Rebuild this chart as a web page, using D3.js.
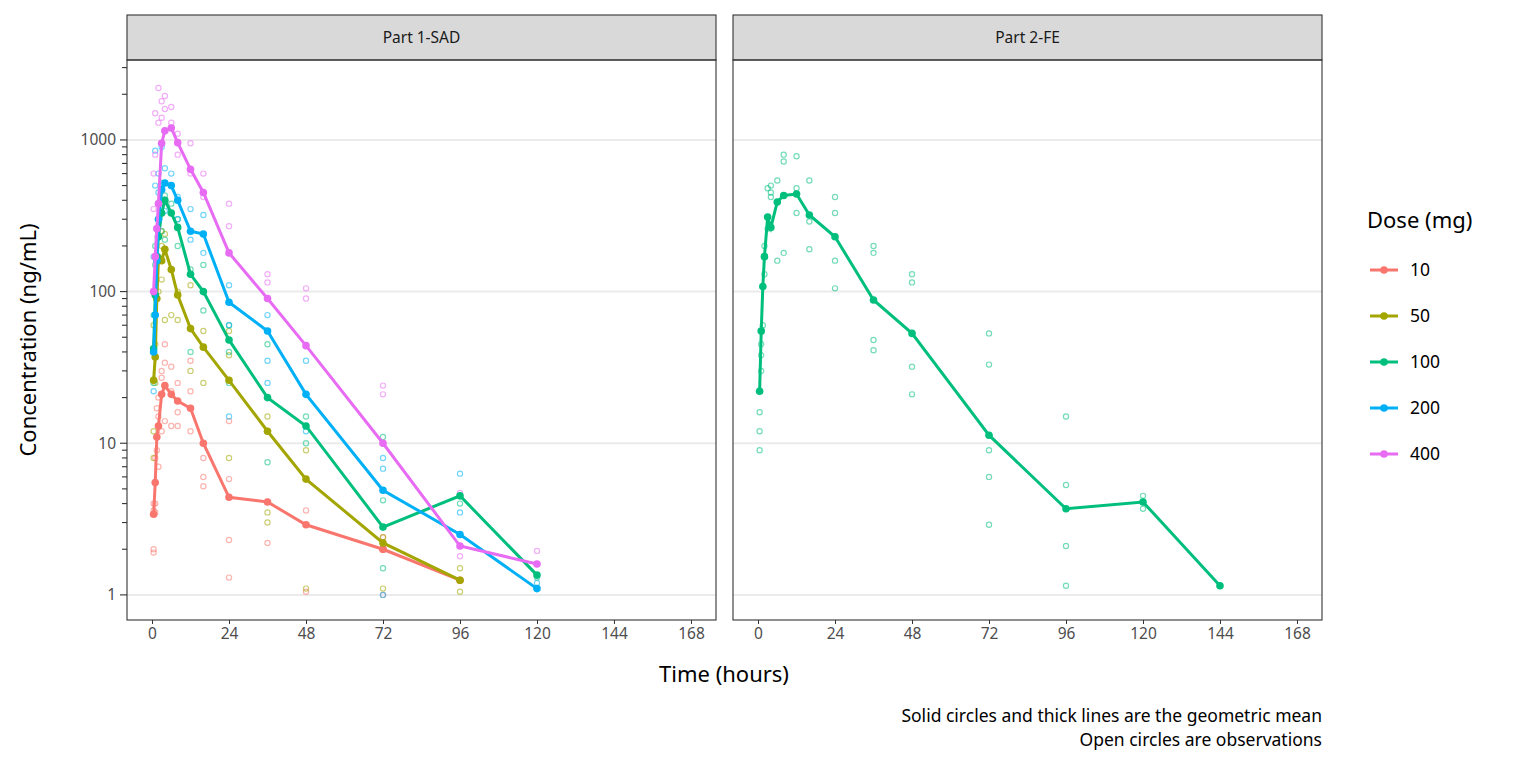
<!DOCTYPE html>
<html><head><meta charset="utf-8">
<script src="https://cdn.jsdelivr.net/npm/d3@7"></script>
<style>body{margin:0;background:#fff;font-family:"Noto Sans",sans-serif}</style>
</head><body><div id="app"></div>
<script>
const doses = ['10', '50', '100', '200', '400'];
const colors = ['#F8766D', '#A3A500', '#00BF7D', '#00B0F6', '#E76BF3'];
const panels = ['Part 1-SAD', 'Part 2-FE'];
const xTicks = [0, 24, 48, 72, 96, 120, 144, 168];
const yTicks = [1, 10, 100, 1000];

// geometric means, Part 1
const times1 = [0.5, 1, 1.5, 2, 3, 4, 6, 8, 12, 16, 24, 36, 48, 72, 96, 120];
const mean10 = [3.4, 5.5, 11, 13, 21, 24, 21, 19, 17, 10, 4.4, 4.1, 2.9, 2.0, null, null];
const mean10b = [null, null, null, null, null, null, null, null, null, null, null, null, null, 2.0, 1.25, null];
const mean50 = [26, 37, 90, 165, 160, 190, 140, 95, 57, 43, 26, 12, 5.8, 2.2, 1.25, null];
const mean100 = [42, 95, 170, 230, 330, 400, 330, 265, 130, 100, 48, 20, 13, 2.8, 4.5, 1.35];
const mean200 = [40, 70, 160, 300, 470, 520, 500, 400, 250, 240, 85, 55, 21, 4.9, 2.5, 1.1];
const mean400 = [100, 170, 260, 380, 950, 1150, 1200, 960, 640, 450, 180, 90, 44, 10, 2.1, 1.6];
// geometric means, Part 2 (100 mg)
const times2 = [0.5, 1, 1.5, 2, 3, 4, 6, 8, 12, 16, 24, 36, 48, 72, 96, 120, 144];
const meanFE = [22, 55, 108, 170, 310, 265, 390, 430, 440, 320, 230, 88, 53, 11.3, 3.7, 4.1, 1.15];

// observations [time, value]
const obs10 = [[0.5,2.0],[0.5,1.9],[0.5,4],[0.5,3.6],[1,8],[1,4],[1,3.5],[1.5,17],[1.5,9],[2,20],[2,15],[2,7],[3,30],[3,12],[3,27],[4,34],[4,45],[4,14],[6,22],[6,13],[6,32],[8,16],[8,13],[8,25],[12,22],[12,12],[12,35],[16,8],[16,5.2],[16,6],[24,14],[24,5.8],[24,2.3],[24,1.3],[36,4.1],[36,2.2],[48,3.6],[48,1.05],[72,2.4],[72,1.0]];
const obs50 = [[0.5,8],[0.5,12],[0.5,60],[1,45],[1,25],[2,100],[2,170],[3,200],[3,250],[3,120],[4,240],[4,65],[6,70],[6,140],[8,100],[8,65],[12,110],[12,30],[16,55],[16,25],[24,55],[24,38],[24,8],[36,15],[36,3.5],[36,3],[48,9],[48,1.1],[72,2.4],[72,1.1],[96,1.5],[96,1.05]];
const obs100 = [[0.5,25],[0.5,70],[1,200],[1,150],[2,300],[3,520],[3,250],[4,430],[4,220],[6,380],[8,300],[8,200],[12,140],[12,40],[16,150],[16,75],[24,60],[24,40],[24,25],[36,45],[36,7.5],[48,15],[48,10],[72,11],[72,4.2],[72,1.5],[96,4],[120,1.3]];
const obs200 = [[0.5,22],[0.5,170],[1,500],[1,850],[2,600],[2,450],[3,900],[4,650],[4,340],[6,600],[8,420],[8,300],[12,350],[12,220],[16,320],[16,180],[24,110],[24,60],[24,15],[36,70],[36,35],[36,25],[48,35],[48,12],[72,8],[72,6.8],[72,1.0],[96,6.3],[96,3.5],[120,1.2]];
const obs400 = [[0.5,600],[0.5,350],[1,1500],[1,800],[2,1300],[2,2200],[3,1800],[3,1400],[4,1950],[4,1600],[6,1650],[6,1300],[8,1100],[8,800],[12,950],[12,600],[16,600],[16,420],[24,380],[24,270],[36,130],[36,115],[48,105],[48,90],[72,24],[72,21],[96,4.7],[96,1.8],[120,1.95]];
const obsFE = [[0.5,9],[0.5,12],[0.5,16],[1,30],[1,45],[1,38],[1.5,60],[2,200],[2,130],[3,480],[3,260],[4,500],[4,420],[4,450],[6,540],[6,160],[8,800],[8,720],[8,180],[12,780],[12,480],[12,330],[16,540],[16,290],[16,190],[24,420],[24,330],[24,160],[24,105],[36,200],[36,180],[36,48],[36,41],[48,130],[48,115],[48,32],[48,21],[72,53],[72,33],[72,9],[72,6],[72,2.9],[96,15],[96,5.3],[96,2.1],[96,1.15],[120,4.5],[120,3.7]];

const W = 1536, H = 768;
const plotTop = 60, plotBottom = 620;
const svg = d3.select('#app').append('svg').attr('width', W).attr('height', H)
  .style('font-family', '"Noto Sans", sans-serif');

const y = d3.scaleLog().domain([0.683, 3366]).range([plotBottom, plotTop]);
const px = [[127, 716], [733, 1322]];
const xs = px.map(p => d3.scaleLinear().domain([-7.8, 175.8]).range(p));

const meanSets = [
  [[times1, mean10, 0], [times1, mean10b, 0], [times1, mean50, 1], [times1, mean100, 2], [times1, mean200, 3], [times1, mean400, 4]],
  [[times2, meanFE, 2]]
];
const obsSets = [
  [[obs10, 0], [obs50, 1], [obs100, 2], [obs200, 3], [obs400, 4]],
  [[obsFE, 2]]
];

panels.forEach((name, p) => {
  const x = xs[p];
  const [l, r] = px[p];
  const g = svg.append('g');
  // strip
  g.append('rect').attr('x', l).attr('y', 15).attr('width', r - l).attr('height', plotTop - 15)
    .attr('fill', '#d9d9d9').attr('stroke', '#333').attr('stroke-width', 1.1);
  g.append('text').attr('x', (l + r) / 2).attr('y', 43).attr('text-anchor', 'middle')
    .attr('font-size', 15.5).attr('fill', '#1a1a1a').text(name);
  // grid
  g.selectAll('.gy').data(yTicks).join('line')
    .attr('x1', l).attr('x2', r).attr('y1', d => y(d)).attr('y2', d => y(d))
    .attr('stroke', '#ebebeb').attr('stroke-width', 2);
  // observations
  obsSets[p].forEach(([obs, c]) => {
    g.selectAll(null).data(obs).join('circle')
      .attr('cx', d => x(d[0])).attr('cy', d => y(d[1])).attr('r', 2.6)
      .attr('fill', 'none').attr('stroke', colors[c]).attr('stroke-opacity', 0.55).attr('stroke-width', 1.2);
  });
  // means
  meanSets[p].forEach(([t, v, c]) => {
    const pts = t.map((tt, i) => [tt, v[i]]).filter(d => d[1] != null);
    g.append('path').datum(pts)
      .attr('d', d3.line().x(d => x(d[0])).y(d => y(d[1])))
      .attr('fill', 'none').attr('stroke', colors[c]).attr('stroke-width', 3);
    g.selectAll(null).data(pts).join('circle')
      .attr('cx', d => x(d[0])).attr('cy', d => y(d[1])).attr('r', 3.8).attr('fill', colors[c]);
  });
  g.append('rect').attr('x', l).attr('y', plotTop).attr('width', r - l).attr('height', plotBottom - plotTop)
    .attr('fill', 'none').attr('stroke', '#333').attr('stroke-width', 1.1);
  // x axis
  const ax = g.append('g').attr('transform', `translate(0,${plotBottom})`)
    .call(d3.axisBottom(x).tickValues(xTicks).tickSize(4).tickPadding(4));
  ax.select('.domain').remove();
  ax.selectAll('line').attr('stroke', '#333');
  ax.selectAll('text').attr('font-size', 15.5).attr('fill', '#4d4d4d').attr('font-family', '"Noto Sans", sans-serif');
});

// y axis with log ticks
const minor = [];
[1, 10, 100, 1000].forEach(d => { for (let k = 1; k <= 9; k++) if (d * k < 3366) minor.push(d * k); });
svg.selectAll('.mt').data(minor).join('line')
  .attr('x1', d => yTicks.includes(d) ? 120 : 122).attr('x2', 127)
  .attr('y1', d => y(d)).attr('y2', d => y(d)).attr('stroke', '#333').attr('stroke-width', 1.1);
svg.selectAll('.yl').data(yTicks).join('text')
  .attr('x', 116).attr('y', d => y(d) + 5.5).attr('text-anchor', 'end')
  .attr('font-size', 15.5).attr('fill', '#4d4d4d').text(d => d);

svg.append('text').attr('transform', `translate(36,${(plotTop + plotBottom) / 2}) rotate(-90)`)
  .attr('text-anchor', 'middle').attr('font-size', 22).attr('fill', '#000').text('Concentration (ng/mL)');
svg.append('text').attr('x', 724).attr('y', 682).attr('text-anchor', 'middle')
  .attr('font-size', 22).attr('fill', '#000').text('Time (hours)');

// legend
svg.append('text').attr('x', 1367).attr('y', 228).attr('font-size', 22).text('Dose (mg)');
const lg = svg.selectAll('.lg').data(doses).join('g')
  .attr('transform', (d, i) => `translate(1370,${270 + i * 46})`);
lg.append('line').attr('x1', 0).attr('x2', 28).attr('stroke', (d, i) => colors[i]).attr('stroke-width', 3);
lg.append('circle').attr('cx', 14).attr('r', 3.8).attr('fill', (d, i) => colors[i]);
lg.append('text').attr('x', 40).attr('y', 6).attr('font-size', 17.5).text(d => d);

// caption
svg.append('text').attr('x', 1322).attr('y', 722).attr('text-anchor', 'end').attr('font-size', 17.5)
  .text('Solid circles and thick lines are the geometric mean');
svg.append('text').attr('x', 1322).attr('y', 746).attr('text-anchor', 'end').attr('font-size', 17.5)
  .text('Open circles are observations');
</script></body></html>
